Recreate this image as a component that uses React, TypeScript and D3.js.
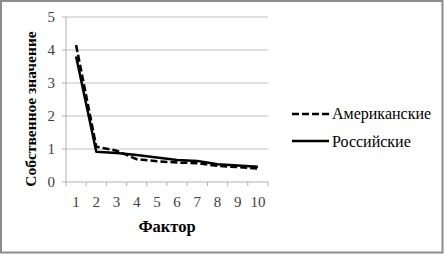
import React from "react";
import * as d3 from "d3";

const factors = ["1", "2", "3", "4", "5", "6", "7", "8", "9", "10"];
const american = [4.15, 1.07, 0.95, 0.69, 0.63, 0.59, 0.57, 0.49, 0.45, 0.41];
const russian = [3.8, 0.92, 0.88, 0.82, 0.74, 0.67, 0.64, 0.54, 0.5, 0.46];
const yTicks = [0, 1, 2, 3, 4, 5];
const seriesNames = ["Американские", "Российские"];
const yTitle = "Собственное значение";
const xTitle = "Фактор";

export default function App() {
  const W = 444, H = 254;
  const x = d3.scaleBand<string>().domain(factors).range([66, 268]);
  const y = d3.scaleLinear().domain([0, 5]).range([182, 17]);
  const line = d3
    .line<number>()
    .x((_, i) => (x(factors[i]) as number) + x.bandwidth() / 2)
    .y((d) => y(d));
  const ts: React.CSSProperties = { fontFamily: "'Liberation Serif', 'DejaVu Serif', serif" };
  const boundaries = factors.map((f) => x(f) as number).concat([x.range()[1]]);
  return (
    <svg
      width={W}
      height={H}
      style={{ position: "absolute", left: 0, top: 0, background: "#fff" }}
    >
      <rect x={1} y={1} width={W - 2.5} height={H - 2.5} fill="#fff" stroke="#8c8c8c" strokeWidth={2} />
      {yTicks.map((t) => (
        <g key={t}>
          {t > 0 && (
            <line x1={66} x2={268} y1={y(t)} y2={y(t)} stroke="#c0c0c0" strokeWidth={1} />
          )}
          <line x1={62} x2={66} y1={y(t)} y2={y(t)} stroke="#b0b0b0" strokeWidth={1} />
          <text x={55} y={y(t) + 5} textAnchor="end" fontSize={15} fill="#404040" style={ts}>
            {t}
          </text>
        </g>
      ))}
      <line x1={66} x2={66} y1={y(5)} y2={y(0)} stroke="#b0b0b0" strokeWidth={1} />
      <line x1={66} x2={268} y1={y(0)} y2={y(0)} stroke="#b0b0b0" strokeWidth={1} />
      {boundaries.map((b, i) => (
        <line key={i} x1={b} x2={b} y1={182} y2={186} stroke="#b0b0b0" strokeWidth={1} />
      ))}
      {factors.map((f) => (
        <text
          key={f}
          x={(x(f) as number) + x.bandwidth() / 2}
          y={207}
          textAnchor="middle"
          fontSize={15}
          fill="#404040"
          style={ts}
        >
          {f}
        </text>
      ))}
      <path d={line(russian) || ""} fill="none" stroke="#000" strokeWidth={2.5} strokeLinejoin="round" />
      <path
        d={line(american) || ""}
        fill="none"
        stroke="#000"
        strokeWidth={2.5}
        strokeDasharray="7,3"
      />
      <text
        transform={`translate(36,${109}) rotate(-90)`}
        textAnchor="middle"
        fontSize={15.5}
        fontWeight="bold"
        fill="#000"
        style={ts}
      >
        {yTitle}
      </text>
      <text x={167} y={232} textAnchor="middle" fontSize={16.5} fontWeight="bold" fill="#000" style={ts}>
        {xTitle}
      </text>
      <line x1={292} x2={329} y1={114} y2={114} stroke="#000" strokeWidth={2.5} strokeDasharray="7,3" />
      <text x={332} y={119} fontSize={16} fill="#000" style={ts}>
        {seriesNames[0]}
      </text>
      <line x1={292} x2={329} y1={141} y2={141} stroke="#000" strokeWidth={2.5} />
      <text x={332} y={146.5} fontSize={16} fill="#000" style={ts}>
        {seriesNames[1]}
      </text>
    </svg>
  );
}
